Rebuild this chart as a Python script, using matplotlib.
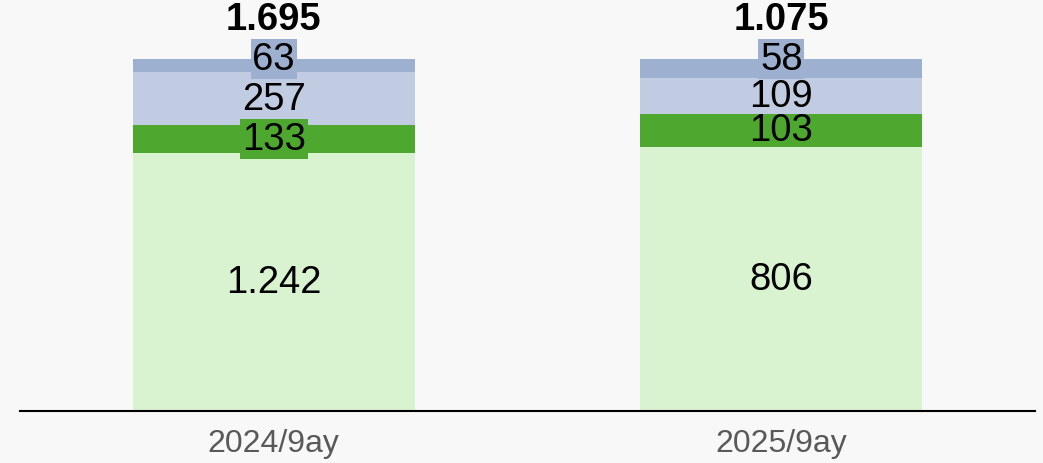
import numpy as np
import matplotlib.pyplot as plt

plt.rcParams['font.family'] = ['Liberation Sans', 'DejaVu Sans']

categories = ['2024/9ay', '2025/9ay']
# stacked segments, bottom to top
seg_light_green = [1242, 806]
seg_dark_green = [133, 103]
seg_light_blue = [257, 109]
seg_dark_blue = [63, 58]
totals_labels = ['1.695', '1.075']

series = [seg_light_green, seg_dark_green, seg_light_blue, seg_dark_blue]
colors = ['#d9f2d0', '#4ea72e', '#c1cce2', '#9db0d0']


def fmt(v):
    return f"{v:,}".replace(',', '.')


fig = plt.figure(figsize=(10.43, 4.64), dpi=100, facecolor='#f8f8f8')
ax = fig.add_axes([20 / 1043, 52 / 464, 1015 / 1043, 352 / 464])
ax.set_facecolor('#f8f8f8')

x = np.arange(len(categories))
data = np.array(series, dtype=float)
tot = data.sum(axis=0)
frac = data / tot
bottom = np.zeros(len(categories))

for i, (vals, c) in enumerate(zip(series, colors)):
    ax.bar(x, frac[i], 0.556, bottom=bottom, color=c, zorder=2)
    for j in range(len(categories)):
        if i == len(series) - 1:
            yy = bottom[j] + frac[i][j]
        else:
            yy = bottom[j] + frac[i][j] / 2
        # small segments get a filled label box
        box = None
        if frac[i][j] < 0.09:
            box = dict(boxstyle='square,pad=0.05', fc=c, ec='none')
        ax.text(x[j], yy, fmt(vals[j]), ha='center', va='center',
                fontsize=27.5, color='black', zorder=3 + i, bbox=box)
    bottom += frac[i]

for j in range(len(categories)):
    ax.annotate(totals_labels[j], (x[j], bottom[j]), xytext=(0, 29),
                textcoords='offset points', ha='center', va='center',
                fontsize=27.5, fontweight='bold', color='black',
                annotation_clip=False)

ax.set_xlim(-0.5, 1.5)
ax.set_ylim(0, 1.0)
ax.set_xticks(x)
ax.set_xticklabels(categories, fontsize=23, color='#595959')
ax.tick_params(axis='x', length=0, pad=12)
ax.set_yticks([])
for s in ['top', 'right', 'left']:
    ax.spines[s].set_visible(False)
ax.spines['bottom'].set_linewidth(1.5)
ax.spines['bottom'].set_zorder(10)

fig.savefig('out.png', dpi=100, facecolor='#f8f8f8')
